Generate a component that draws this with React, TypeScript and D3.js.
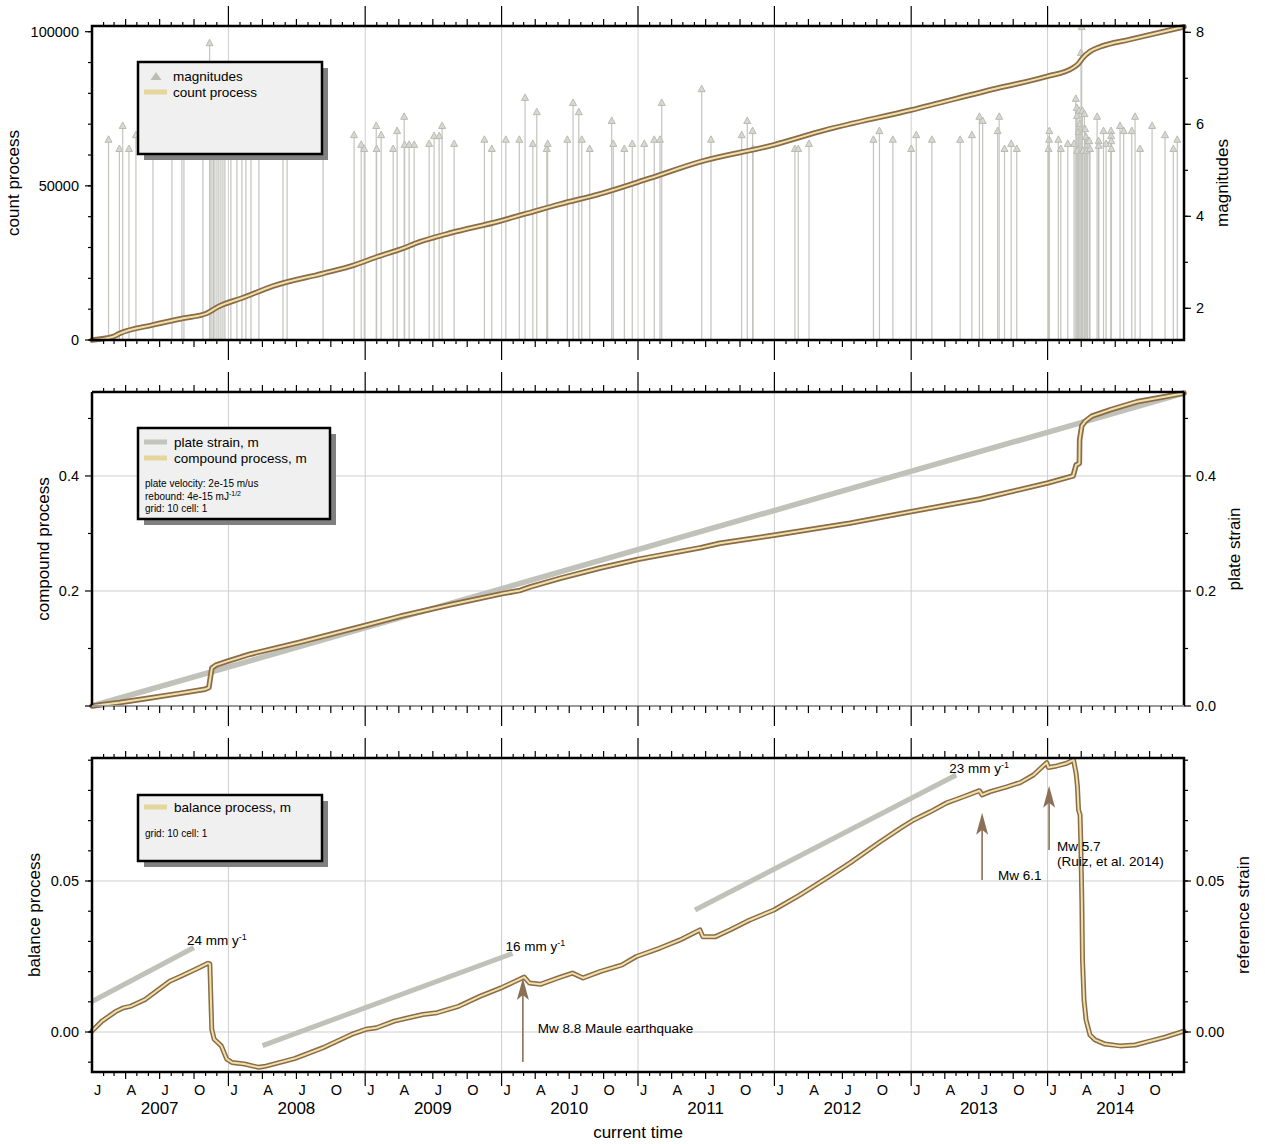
import React from 'react';
import * as d3 from 'd3';

// ---- data (decimal years) ----
const eventYears = [
  2007.121, 2007.201, 2007.225, 2007.271, 2007.322, 2007.447, 2007.586, 2007.659, 2007.674, 2007.813,
  2007.862, 2007.866, 2007.879, 2007.890, 2007.901, 2007.916, 2007.930, 2007.945, 2007.960, 2007.974,
  2008.018, 2008.062, 2008.099, 2008.128, 2008.165, 2008.223, 2008.399, 2008.429, 2008.692, 2008.919,
  2008.971, 2008.993, 2009.081, 2009.084, 2009.117, 2009.205, 2009.234, 2009.286, 2009.289, 2009.322,
  2009.359, 2009.469, 2009.505, 2009.542, 2009.564, 2009.652, 2009.874, 2009.928, 2010.031, 2010.130,
  2010.172, 2010.229, 2010.258, 2010.331, 2010.338, 2010.482, 2010.524, 2010.566, 2010.588, 2010.646,
  2010.807, 2010.819, 2010.900, 2010.958, 2011.046, 2011.119, 2011.161, 2011.174, 2011.467, 2011.535,
  2011.760, 2011.801, 2011.840, 2011.843, 2012.150, 2012.174, 2012.253, 2012.724, 2012.768, 2012.866,
  2013.000, 2013.037, 2013.152, 2013.359, 2013.445, 2013.500, 2013.524, 2013.634, 2013.645, 2013.684,
  2013.733, 2013.774, 2014.007, 2014.011, 2014.013, 2014.079, 2014.097, 2014.148, 2014.194, 2014.207,
  2014.214, 2014.216, 2014.218, 2014.227, 2014.231, 2014.238, 2014.245, 2014.250, 2014.255, 2014.260,
  2014.270, 2014.275, 2014.282, 2014.287, 2014.294, 2014.306, 2014.311, 2014.363, 2014.374, 2014.375,
  2014.410, 2014.429, 2014.465, 2014.466, 2014.467, 2014.468, 2014.531, 2014.558, 2014.617, 2014.641,
  2014.678, 2014.766, 2014.861, 2014.922, 2014.951,
];
const eventMags = [
  5.75, 5.55, 6.05, 5.55, 5.85, 5.9, 6.1, 5.8, 6.0, 5.7,
  7.85, 6.3, 6.0, 5.8, 6.5, 5.9, 6.1, 5.7, 6.0, 5.8,
  5.9, 6.2, 5.7, 5.6, 6.0, 5.8, 5.9, 6.4, 6.0, 5.85,
  5.64, 5.55, 6.05, 5.55, 5.85, 5.55, 5.94, 6.25, 5.64, 5.64,
  5.64, 5.66, 5.83, 5.83, 6.05, 5.66, 5.75, 5.55, 5.75, 5.75,
  6.66, 5.66, 6.35, 5.55, 5.66, 5.75, 6.55, 6.35, 5.75, 5.55,
  6.16, 5.66, 5.55, 5.66, 5.66, 5.75, 5.75, 6.55, 6.85, 5.75,
  5.85, 6.16, 5.94, 5.55, 5.55, 5.55, 5.66, 5.75, 5.94, 5.75,
  5.55, 5.85, 5.75, 5.75, 5.85, 6.25, 6.16, 5.94, 6.25, 5.55,
  5.66, 5.55, 5.55, 5.75, 5.94, 5.75, 5.55, 5.66, 5.66, 6.64,
  6.44, 6.27, 5.51, 5.92, 6.38, 6.09, 7.64, 8.2, 6.38, 5.51,
  6.31, 5.98, 5.81, 5.51, 5.72, 5.72, 5.55, 6.25, 5.72, 5.62,
  5.94, 5.66, 5.94, 5.83, 5.72, 5.55, 6.05, 5.94, 5.94, 6.25,
  5.55, 6.05, 5.85, 5.55, 5.75,
];

const countYears = [2007.0, 2007.154, 2007.205, 2007.447, 2007.667, 2007.842, 2007.864, 2007.916, 2008.106, 2008.326,
  2008.692, 2008.919, 2009.088, 2009.256, 2009.403, 2009.623, 2009.989, 2010.172, 2010.429, 2010.722,
  2011.088, 2011.454, 2011.996, 2012.363, 2013.0, 2013.652, 2013.996, 2014.187, 2014.223, 2014.26,
  2014.311, 2014.385, 2014.604, 2015.0];
const countValues = [0, 1070, 2160, 4900, 7040, 8660, 9200, 10600, 13700, 17500,
  21600, 24300, 27000, 29400, 31900, 34700, 38600, 40900, 44100, 47400,
  52500, 57800, 63300, 68000, 74600, 81900, 85500, 88300, 89500, 91600,
  93600, 95100, 97500, 101600];

const plateYears = [2007.0, 2015.0];
const plateValues = [0, 0.544];

const compoundYears = [2007.0, 2007.205, 2007.425, 2007.645, 2007.828, 2007.857, 2007.868, 2007.879, 2007.908, 2007.996,
  2008.158, 2008.524, 2009.0, 2009.256, 2009.623, 2009.996, 2010.136, 2010.209, 2010.429, 2010.722,
  2011.0, 2011.454, 2011.601, 2011.996, 2012.553, 2013.0, 2013.505, 2014.004, 2014.187, 2014.209,
  2014.233, 2014.235, 2014.251, 2014.275, 2014.324, 2014.458, 2014.654, 2015.0];
const compoundValues = [0, 0.006, 0.014, 0.022, 0.029, 0.032, 0.05, 0.066, 0.071, 0.078,
  0.09, 0.111, 0.14, 0.156, 0.176, 0.195, 0.201, 0.207, 0.222, 0.24,
  0.255, 0.275, 0.283, 0.297, 0.318, 0.338, 0.36, 0.388, 0.4, 0.419,
  0.422, 0.463, 0.487, 0.495, 0.504, 0.515, 0.529, 0.544];

const balanceYears = [2007.0, 2007.073, 2007.178, 2007.23, 2007.282, 2007.387, 2007.569, 2007.648, 2007.779, 2007.851,
  2007.864, 2007.878, 2007.896, 2007.948, 2007.987, 2008.026, 2008.117, 2008.222, 2008.274, 2008.483,
  2008.692, 2008.9, 2009.005, 2009.083, 2009.213, 2009.318, 2009.423, 2009.527, 2009.684, 2009.84,
  2009.996, 2010.166, 2010.205, 2010.284, 2010.414, 2010.519, 2010.597, 2010.727, 2010.883, 2010.988,
  2011.161, 2011.308, 2011.454, 2011.476, 2011.564, 2011.674, 2011.82, 2011.996, 2012.187, 2012.407,
  2012.553, 2012.773, 2012.919, 2013.017, 2013.139, 2013.261, 2013.383, 2013.5, 2013.52, 2013.579,
  2013.701, 2013.799, 2013.896, 2013.994, 2014.006, 2014.067, 2014.141, 2014.19, 2014.209, 2014.219,
  2014.227, 2014.238, 2014.243, 2014.251, 2014.256, 2014.267, 2014.282, 2014.311, 2014.348, 2014.421,
  2014.531, 2014.641, 2014.751, 2014.861, 2015.0];
const balanceValues = [0.0003, 0.0036, 0.0069, 0.008, 0.0085, 0.0107, 0.0168, 0.0184, 0.0212, 0.0228,
  0.0225, 0.0009, -0.0024, -0.0046, -0.0089, -0.0101, -0.0106, -0.0117, -0.0113, -0.0088,
  -0.0052, -0.0008, 0.0009, 0.0014, 0.0036, 0.0047, 0.0058, 0.0064, 0.0085, 0.0118,
  0.0146, 0.0182, 0.0162, 0.0158, 0.0179, 0.0195, 0.0179, 0.0201, 0.0222, 0.025,
  0.0278, 0.0305, 0.0338, 0.0315, 0.0315, 0.0338, 0.0371, 0.0404, 0.0454, 0.0517,
  0.056, 0.063, 0.0674, 0.0702, 0.0729, 0.0759, 0.0779, 0.0799, 0.0785, 0.0796,
  0.0812, 0.0826, 0.0851, 0.0892, 0.0876, 0.0881, 0.089, 0.0901, 0.0857, 0.0812,
  0.0735, 0.0719, 0.0636, 0.0437, 0.0238, 0.0106, 0.004, -0.001, -0.0026, -0.004,
  -0.0046, -0.0043, -0.003, -0.0017, 0.0003];

// reference slopes in bottom panel
const refStartYears = [2007.0, 2008.25, 2011.418];
const refStartValues = [0.0101, -0.0045, 0.0404];
const refEndYears = [2007.747, 2010.08, 2013.33];
const refEndValues = [0.028, 0.026, 0.0851];
const refRates = ['24', '16', '23'];

// earthquake arrows in bottom panel
const arrowYears = [2010.156, 2013.52, 2014.011];
const arrowFrom = [-0.0099, 0.0503, 0.0603];
const arrowTo = [0.0179, 0.0726, 0.0815];

const monthLetters = ['J', '', '', 'A', '', '', 'J', '', '', 'O', '', ''];

// ---- layout ----
const W = 1265, H = 1144;
const X0 = 92, X1 = 1184;
const P1 = [26, 340], P2 = [392, 706], P3 = [758, 1072];
const FONT = '"Liberation Sans", Arial, Helvetica, sans-serif';
const GRID = '#cfcfcf';

const dy = (t: number) => {
  const y = Math.floor(t);
  const a = Date.UTC(y, 0, 1), b = Date.UTC(y + 1, 0, 1);
  return new Date(a + (t - y) * (b - a));
};

const x = d3.scaleUtc().domain([new Date(Date.UTC(2007, 0, 1)), new Date(Date.UTC(2015, 0, 1))]).range([X0, X1]);
const yCount = d3.scaleLinear().domain([0, 101850]).range([P1[1], P1[0]]);
const yMag = d3.scaleLinear().domain([1.311, 8.137]).range([P1[1], P1[0]]);
const yComp = d3.scaleLinear().domain([0, 0.546]).range([P2[1], P2[0]]);
const yBal = d3.scaleLinear().domain([-0.013245, 0.09073]).range([P3[1], P3[0]]);

const months = d3.utcMonth.range(x.domain()[0], x.domain()[1]);
const years = d3.utcYear.range(x.domain()[0], x.domain()[1]);

const zip = (a: number[], b: number[]) => a.map((t, i) => [t, b[i]] as [number, number]);
const mkLine = (ys: d3.ScaleLinear<number, number>, curve: d3.CurveFactory = d3.curveLinear) =>
  d3.line<[number, number]>().x(d => x(dy(d[0]))).y(d => ys(d[1])).curve(curve);

const TimeTicks = ({ top, bottom, botYear = 20 }: { top: number; bottom: number; botYear?: number }) => (
  <g stroke="#000" strokeWidth={1.2}>
    {months.map((m, i) => {
      if (i === 0) return null;
      const mm = m.getUTCMonth();
      const px = x(m);
      const lenT = mm === 0 ? 20 : mm % 3 === 0 ? 7 : 4;
      const lenB = mm === 0 ? botYear : mm % 3 === 0 ? 7 : 4;
      return (
        <g key={i}>
          <line x1={px} x2={px} y1={top} y2={top - lenT} />
          <line x1={px} x2={px} y1={bottom} y2={bottom + lenB} />
        </g>
      );
    })}
  </g>
);

const VGrid = ({ top, bottom }: { top: number; bottom: number }) => (
  <g stroke={GRID} strokeWidth={1}>
    {years.slice(1).map((y, i) => <line key={i} x1={x(y)} x2={x(y)} y1={top} y2={bottom} />)}
  </g>
);

type YA = { scale: d3.ScaleLinear<number, number>; side: 'left' | 'right'; majors: number[]; labels: string[]; minors: number[] };
const YAxis = ({ scale, side, majors, labels, minors }: YA) => {
  const x0 = side === 'left' ? X0 : X1;
  const d = side === 'left' ? -1 : 1;
  return (
    <g>
      <g stroke="#000" strokeWidth={1.2}>
        {minors.map((v, i) => <line key={'n' + i} x1={x0} x2={x0 + d * 4} y1={scale(v)} y2={scale(v)} />)}
        {majors.map((v, i) => <line key={'j' + i} x1={x0} x2={x0 + d * 7} y1={scale(v)} y2={scale(v)} />)}
      </g>
      {majors.map((v, i) => (
        <text key={'t' + i} x={side === 'left' ? 79 : 1196} y={scale(v) + 5} fontSize={14.5}
          textAnchor={side === 'left' ? 'end' : 'start'}>{labels[i]}</text>
      ))}
    </g>
  );
};

const Legend = ({ x0, y0, w, h, children }: { x0: number; y0: number; w: number; h: number; children?: React.ReactNode }) => (
  <g>
    <rect x={x0 + 6} y={y0 + 6} width={w} height={h} fill="#808080" />
    <rect x={x0} y={y0} width={w} height={h} fill="#f0f0f0" stroke="#000" strokeWidth={2.5} />
    {children}
  </g>
);

const Sup = ({ children, size = 9, up = 5 }: { children: React.ReactNode; size?: number; up?: number }) =>
  <tspan dy={-up} fontSize={size}>{children}</tspan>;

const DoubleLine = ({ d, outer = 5.5, inner = 2 }: { d: string; outer?: number; inner?: number }) => (
  <g fill="none" strokeLinejoin="round" strokeLinecap="round">
    <path d={d} stroke="#8b6b4a" strokeWidth={outer} />
    <path d={d} stroke="#efe2a8" strokeWidth={inner} />
  </g>
);

const steps = (a: number, b: number, s: number) => d3.range(Math.round((b - a) / s) + 1).map(i => +(a + i * s).toFixed(6));

export default function App() {
  const countPath = mkLine(yCount, d3.curveMonotoneX)(zip(countYears, countValues)) || '';
  const platePath = mkLine(yComp)(zip(plateYears, plateValues)) || '';
  const compPath = mkLine(yComp)(zip(compoundYears, compoundValues)) || '';
  const balPath = mkLine(yBal)(zip(balanceYears, balanceValues)) || '';

  return (
    <svg width={W} height={H} style={{ position: 'absolute', left: 0, top: 0, background: '#fff' }}
      fontFamily={FONT}>
      <defs>
        <clipPath id="clip1"><rect x={X0} y={P1[0]} width={X1 - X0} height={P1[1] - P1[0]} /></clipPath>
      </defs>
      <rect width={W} height={H} fill="#fff" />

      {/* ---------- panel 1 ---------- */}
      <VGrid top={P1[0]} bottom={P1[1]} />
      <g clipPath="url(#clip1)">
        {eventYears.map((t, i) => {
          const px = x(dy(t));
          const py = yMag(eventMags[i]);
          return (
            <g key={i}>
              <line x1={px} x2={px} y1={P1[1]} y2={py + 5} stroke="#c3c4bd" strokeWidth={1.2} />
              <path d={`M${px},${py}L${px - 3.5},${py + 6.5}L${px + 3.5},${py + 6.5}Z`} fill="#d8d8d2" stroke="#b5b6ae" strokeWidth={0.9} />
            </g>
          );
        })}
      </g>
      <DoubleLine d={countPath} />
      <Legend x0={138} y0={62} w={184} h={92}>
        <path d="M156,72 L150.5,80 L161.5,80 Z" fill="#bdbdb6" />
        <text x={173} y={81} fontSize={13.5}>magnitudes</text>
        <line x1={144} x2={167} y1={92} y2={92} stroke="#e5d69c" strokeWidth={5} />
        <text x={173} y={97} fontSize={13.5}>count process</text>
      </Legend>
      <rect x={X0} y={P1[0]} width={X1 - X0} height={P1[1] - P1[0]} fill="none" stroke="#000" strokeWidth={2.5} />
      <TimeTicks top={P1[0]} bottom={P1[1]} />
      <YAxis scale={yCount} side="left" majors={[0, 50000, 100000]} labels={['0', '50000', '100000']} minors={steps(0, 100000, 10000)} />
      <YAxis scale={yMag} side="right" majors={[2, 4, 6, 8]} labels={['2', '4', '6', '8']} minors={steps(2, 8, 1)} />
      <text transform={`translate(19,${(P1[0] + P1[1]) / 2}) rotate(-90)`} textAnchor="middle" fontSize={17}>count process</text>
      <text transform={`translate(1228,${(P1[0] + P1[1]) / 2}) rotate(-90)`} textAnchor="middle" fontSize={17}>magnitudes</text>

      {/* ---------- panel 2 ---------- */}
      <VGrid top={P2[0]} bottom={P2[1]} />
      <g stroke={GRID} strokeWidth={1}>
        {[0.2, 0.4].map(v => <line key={v} x1={X0} x2={X1} y1={yComp(v)} y2={yComp(v)} />)}
      </g>
      <path d={platePath} fill="none" stroke="#c0c1b9" strokeWidth={5.5} />
      <DoubleLine d={compPath} />
      <Legend x0={138} y0={428} w={192} h={91}>
        <line x1={144} x2={167} y1={442} y2={442} stroke="#c3c4bc" strokeWidth={5} />
        <text x={174} y={447} fontSize={13.5}>plate strain, m</text>
        <line x1={144} x2={167} y1={458} y2={458} stroke="#e5d69c" strokeWidth={5} />
        <text x={174} y={463} fontSize={13.5}>compound process, m</text>
        <text x={145} y={487} fontSize={10}>plate velocity: 2e-15 m/us</text>
        <text x={145} y={499.5} fontSize={10}>rebound: 4e-15 mJ<Sup size={7} up={3.5}>-1/2</Sup></text>
        <text x={145} y={512} fontSize={10}>grid: 10 cell: 1</text>
      </Legend>
      <g stroke="#000" strokeWidth={2.5}>
        <line x1={X0} x2={X1} y1={P2[0]} y2={P2[0]} />
        <line x1={X0} x2={X0} y1={P2[0]} y2={P2[1]} />
        <line x1={X1} x2={X1} y1={P2[0]} y2={P2[1]} />
      </g>
      <line x1={X0} x2={X1} y1={P2[1]} y2={P2[1]} stroke="#9a9a9a" strokeWidth={2} />
      <TimeTicks top={P2[0]} bottom={P2[1]} />
      <YAxis scale={yComp} side="left" majors={[0, 0.2, 0.4]} labels={['', '0.2', '0.4']} minors={[0.1, 0.3, 0.5]} />
      <YAxis scale={yComp} side="right" majors={[0, 0.2, 0.4]} labels={['0.0', '0.2', '0.4']} minors={[0.1, 0.3, 0.5]} />
      <text transform={`translate(49,${(P2[0] + P2[1]) / 2}) rotate(-90)`} textAnchor="middle" fontSize={17}>compound process</text>
      <text transform={`translate(1240,${(P2[0] + P2[1]) / 2}) rotate(-90)`} textAnchor="middle" fontSize={17}>plate strain</text>

      {/* ---------- panel 3 ---------- */}
      <VGrid top={P3[0]} bottom={P3[1]} />
      <g stroke={GRID} strokeWidth={1}>
        {[0, 0.05].map(v => <line key={v} x1={X0} x2={X1} y1={yBal(v)} y2={yBal(v)} />)}
      </g>
      {refStartYears.map((t, i) => {
        const xa = x(dy(t)), ya = yBal(refStartValues[i]);
        const xb = x(dy(refEndYears[i])), yb = yBal(refEndValues[i]);
        return (
          <g key={i}>
            <line x1={xa} x2={xb} y1={ya} y2={yb} stroke="#c0c1b9" strokeWidth={5} />
            <text x={xb - 7} y={yb - 2} fontSize={13.5}>{refRates[i]} mm y<Sup>-1</Sup></text>
          </g>
        );
      })}
      <DoubleLine d={balPath} outer={5} inner={2} />
      {arrowYears.map((t, i) => {
        const px = x(dy(t));
        const y0 = yBal(arrowFrom[i]);
        const y1 = yBal(arrowTo[i]);
        return (
          <g key={i} fill="#8a7056" stroke="#8a7056">
            <line x1={px} x2={px} y1={y0} y2={y1 + 16} strokeWidth={1.6} />
            <path d={`M${px},${y1} L${px - 6},${y1 + 22} L${px},${y1 + 17} L${px + 6},${y1 + 22} Z`} stroke="none" />
          </g>
        );
      })}
      <text x={x(dy(arrowYears[0])) + 15} y={yBal(arrowFrom[0]) - 29} fontSize={13.5}>Mw 8.8 Maule earthquake</text>
      <text x={x(dy(arrowYears[1])) + 16} y={yBal(arrowFrom[1])} fontSize={13.5}>Mw 6.1</text>
      <text x={x(dy(arrowYears[2])) + 8} y={yBal(arrowFrom[2]) + 1} fontSize={13.5}>Mw 5.7</text>
      <text x={x(dy(arrowYears[2])) + 8} y={yBal(arrowFrom[2]) + 16} fontSize={13.5}>(Ruiz, et al. 2014)</text>
      <Legend x0={138} y0={795} w={184} h={66}>
        <line x1={144} x2={167} y1={807} y2={807} stroke="#e5d69c" strokeWidth={5} />
        <text x={174} y={812} fontSize={13.5}>balance process, m</text>
        <text x={145} y={837} fontSize={10}>grid: 10 cell: 1</text>
      </Legend>
      <rect x={X0} y={P3[0]} width={X1 - X0} height={P3[1] - P3[0]} fill="none" stroke="#000" strokeWidth={2.5} />
      <TimeTicks top={P3[0]} bottom={P3[1]} botYear={14} />
      <YAxis scale={yBal} side="left" majors={[0, 0.05]} labels={['0.00', '0.05']} minors={steps(-0.01, 0.09, 0.01)} />
      <YAxis scale={yBal} side="right" majors={[0, 0.05]} labels={['0.00', '0.05']} minors={steps(-0.01, 0.09, 0.01)} />
      <text transform={`translate(40,${(P3[0] + P3[1]) / 2}) rotate(-90)`} textAnchor="middle" fontSize={17}>balance process</text>
      <text transform={`translate(1249,${(P3[0] + P3[1]) / 2}) rotate(-90)`} textAnchor="middle" fontSize={17}>reference strain</text>

      {/* time labels */}
      {months.map((m, i) => {
        const lab = monthLetters[m.getUTCMonth()];
        if (!lab) return null;
        const mid = x(d3.utcDay.offset(m, 15));
        return <text key={i} x={mid} y={1095} fontSize={14.5} textAnchor="middle">{lab}</text>;
      })}
      {years.map((y, i) => (
        <text key={i} x={x(d3.utcMonth.offset(y, 6))} y={1114} fontSize={17} textAnchor="middle">{y.getUTCFullYear()}</text>
      ))}
      <text x={(X0 + X1) / 2} y={1138} fontSize={17} textAnchor="middle">current time</text>
    </svg>
  );
}
